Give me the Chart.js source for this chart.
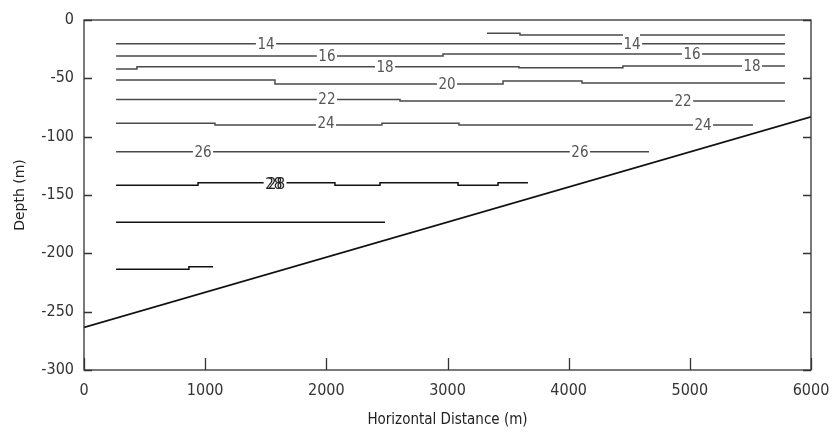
<!DOCTYPE html>
<html>
<head>
<meta charset="utf-8">
<script src="https://cdn.jsdelivr.net/npm/chart.js@4/dist/chart.umd.min.js"></script>
<style>
html,body{margin:0;padding:0;background:#fff;}
#wrap{width:834px;height:435px;position:relative;}
</style>
</head>
<body>
<div id="wrap"><canvas id="c" width="834" height="435"></canvas></div>
<script>
// ---- data (metres) ----
const xTicks = [0, 1000, 2000, 3000, 4000, 5000, 6000];
const yTicks = [0, -50, -100, -150, -200, -250, -300];

const c12aX = [3326, 3598, 4448];        const c12aY = [-11.4, -12.9, -12.9];
const c12bX = [4589, 5785];              const c12bY = [-12.9, -12.9];
const c14X = [265, 5785];                const c14Y = [-20.3, -20.3];
const c16X = [265, 2963, 5785];          const c16Y = [-30.9, -29.1, -29.1];
const c18X = [265, 437, 3590, 4448, 5785]; const c18Y = [-42, -40, -40.9, -39.4, -39.4];
const c20X = [265, 1576, 3458, 4110, 5785]; const c20Y = [-51.4, -54.9, -52.3, -54, -54];
const c22X = [265, 2608, 5785];          const c22Y = [-68.2, -69.5, -69.5];
const c24X = [265, 1081, 2459, 3095, 5521]; const c24Y = [-88.5, -90, -88.5, -90, -90];
const c26X = [265, 4663];                const c26Y = [-112.9, -112.9];
const c28X = [265, 941, 2071, 2443, 3087, 3417, 3664]; const c28Y = [-141.7, -139.5, -141.7, -139.5, -141.7, -139.5, -139.5];
const c30X = [265, 2484];                const c30Y = [-173.4, -173.4];
const c32X = [265, 866, 1065];           const c32Y = [-213.7, -211.4, -211.4];
const bedX = [0, 6000];                  const bedY = [-263.5, -83];

const labelText = ['14','14','16','16','18','18','20','22','22','24','24','26','26','28','28'];
const labelX    = [1502, 4523, 2005, 5018, 2484, 5513, 2996, 2005, 4944, 1997, 5109, 982, 4093, 1566, 1588];
const labelY    = [-20.3, -20.3, -30.9, -29.1, -40, -39.4, -54.9, -68.2, -69.5, -88.5, -90, -112.9, -112.9, -140.6, -140.6];

// ---- build ----
const zip = (xs, ys) => xs.map((x, i) => ({x: x, y: ys[i]}));
const GREY = '#4a4a4a', BLACK = '#111111';
function ds(xs, ys, color, stepped) {
  return {data: zip(xs, ys), borderColor: color, borderWidth: 1.5, pointRadius: 0,
          stepped: stepped, fill: false, tension: 0};
}
const datasets = [
  ds(c12aX, c12aY, GREY, true), ds(c12bX, c12bY, GREY, true),
  ds(c14X, c14Y, GREY, true), ds(c16X, c16Y, GREY, true), ds(c18X, c18Y, GREY, true),
  ds(c20X, c20Y, GREY, true), ds(c22X, c22Y, GREY, true), ds(c24X, c24Y, GREY, true),
  ds(c26X, c26Y, GREY, true), ds(c28X, c28Y, BLACK, true), ds(c30X, c30Y, BLACK, true),
  ds(c32X, c32Y, BLACK, true),
  Object.assign(ds(bedX, bedY, BLACK, false), {borderWidth: 1.6})
];

const NARROW = "'Liberation Sans Narrow', 'DejaVu Sans Condensed', 'Liberation Sans', sans-serif";

const framePlugin = {
  id: 'frame',
  afterDatasetsDraw(chart) {
    const ctx = chart.ctx, xs = chart.scales.x, ys = chart.scales.y;
    ctx.save();
    ctx.font = "15px " + NARROW;
    ctx.textAlign = 'center';
    ctx.textBaseline = 'middle';
    labelText.forEach((t, i) => {
      const px = xs.getPixelForValue(labelX[i]);
      const py = ys.getPixelForValue(labelY[i]);
      const w = ctx.measureText(t).width + 3;
      ctx.fillStyle = '#ffffff';
      ctx.fillRect(px - w / 2, py - 3, w, 6);
    });
    labelText.forEach((t, i) => {
      const px = xs.getPixelForValue(labelX[i]);
      const py = ys.getPixelForValue(labelY[i]);
      ctx.fillStyle = i >= 13 ? '#222222' : '#555555';
      ctx.fillText(t, px, py + 1);
    });
    ctx.restore();
  },
  afterDraw(chart) {
    const ctx = chart.ctx, a = chart.chartArea, xs = chart.scales.x, ys = chart.scales.y;
    ctx.save();
    ctx.strokeStyle = '#333333';
    ctx.lineWidth = 1.3;
    ctx.strokeRect(a.left, a.top, a.right - a.left, a.bottom - a.top);
    ctx.beginPath();
    xTicks.forEach(v => {
      const px = Math.round(xs.getPixelForValue(v)) + 0.5;
      ctx.moveTo(px, a.bottom); ctx.lineTo(px, a.bottom - 12);
    });
    yTicks.forEach(v => {
      const py = Math.round(ys.getPixelForValue(v)) + 0.5;
      ctx.moveTo(a.left, py); ctx.lineTo(a.left + 8, py);
      ctx.moveTo(a.right, py); ctx.lineTo(a.right - 8, py);
    });
    ctx.stroke();
    ctx.restore();
  }
};

new Chart(document.getElementById('c'), {
  type: 'line',
  data: {datasets: datasets},
  plugins: [framePlugin],
  options: {
    responsive: false,
    animation: false,
    layout: {padding: {top: 20, right: 23, left: 12, bottom: 4}},
    plugins: {legend: {display: false}, tooltip: {enabled: false}},
    scales: {
      x: {
        type: 'linear', min: 0, max: 6000,
        afterBuildTicks: s => { s.ticks = xTicks.map(v => ({value: v})); },
        afterFit: s => { s.height = 61; s.paddingLeft = 0; s.paddingRight = 0; },
        grid: {display: false, drawTicks: false},
        border: {display: false},
        ticks: {color: '#333', padding: 11, font: {family: NARROW, size: 16}, maxRotation: 0,
                callback: v => String(v)},
        title: {display: true, text: 'Horizontal Distance (m)', color: '#222',
                font: {family: NARROW, size: 15}, padding: {top: 4, bottom: 2}}
      },
      y: {
        type: 'linear', min: -300, max: 0,
        afterBuildTicks: s => { s.ticks = yTicks.map(v => ({value: v})); },
        afterFit: s => { s.width = 72; s.paddingTop = 0; s.paddingBottom = 0; },
        grid: {display: false, drawTicks: false},
        border: {display: false},
        ticks: {color: '#333', padding: 10, font: {family: NARROW, size: 16},
                callback: v => String(v)},
        title: {display: true, text: 'Depth (m)', color: '#222',
                font: {family: "'DejaVu Sans', sans-serif", size: 14}, padding: {top: 0, bottom: 0}}
      }
    }
  }
});
</script>
</body>
</html>
